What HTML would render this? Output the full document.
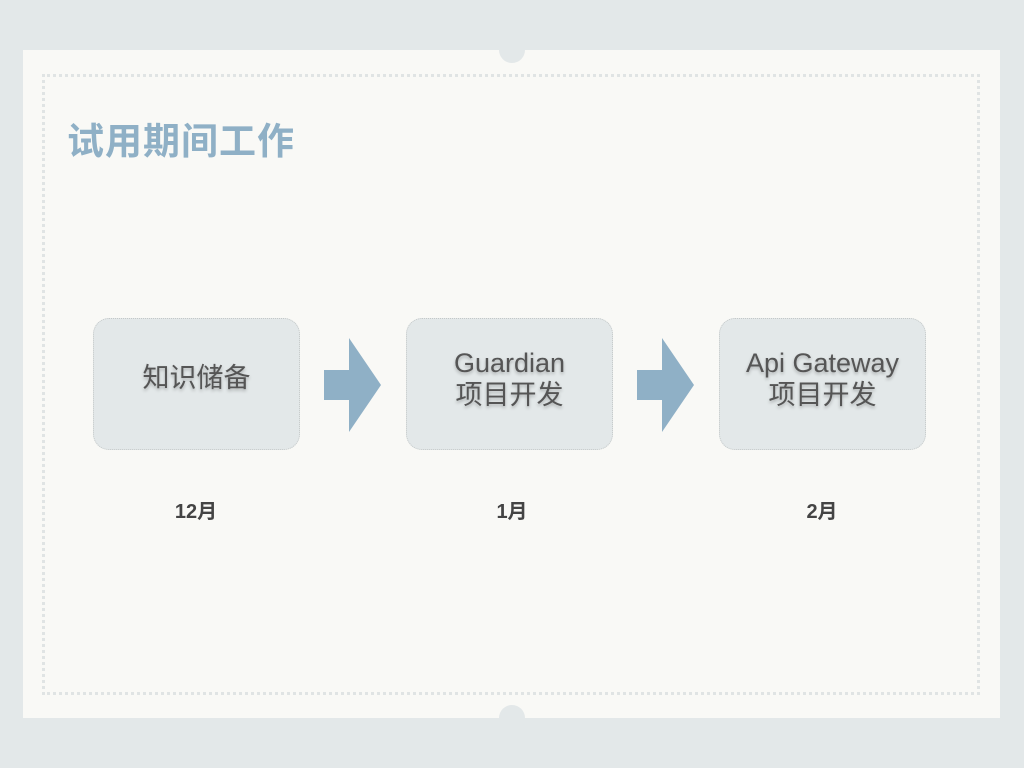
<!DOCTYPE html>
<html><head><meta charset="utf-8"><style>
body{margin:0;width:1024px;height:768px;background:#e3e8e9;position:relative;overflow:hidden;font-family:"Liberation Sans","Noto Sans CJK SC",sans-serif}
.card{position:absolute;left:23px;top:50px;width:977px;height:668px;background:#f9f9f6}
.dot{position:absolute;left:42px;top:74px;width:932px;height:615px;border:3px dotted #e0e4e4}
.notch{position:absolute;width:26px;height:26px;border-radius:50%;background:#e3e8e9;left:499px}
.title{position:absolute;left:67px;top:111px;font-size:37px;font-weight:bold;color:#8fb0c6;letter-spacing:1px}
.box{position:absolute;top:318px;width:207px;height:132px;background:#e3e8e9;border:1px dotted #c4c8c8;border-radius:16px;box-sizing:border-box;color:#555;font-size:27px;text-align:center;text-shadow:0 2px 3px rgba(0,0,0,.25);line-height:32px}
.m{position:absolute;top:495px;width:100px;text-align:center;font-size:20px;font-weight:bold;color:#444}
svg{position:absolute}
</style></head><body>
<div class="card"></div>
<div class="notch" style="top:37px"></div>
<div class="notch" style="top:705px"></div>
<div class="dot"></div>
<div class="title">试用期间工作</div>
<div class="box" style="left:93px;padding-top:43px">知识储备</div>
<div class="box" style="left:406px;padding-top:28px">Guardian<br>项目开发</div>
<div class="box" style="left:719px;padding-top:28px">Api Gateway<br>项目开发</div>
<svg style="left:324px;top:338px" width="58" height="95"><polygon points="0,32 25,32 25,0 57,47 25,94 25,62 0,62" fill="#8fb0c6"/></svg>
<svg style="left:637px;top:338px" width="58" height="95"><polygon points="0,32 25,32 25,0 57,47 25,94 25,62 0,62" fill="#8fb0c6"/></svg>
<div class="m" style="left:146px">12月</div>
<div class="m" style="left:462px">1月</div>
<div class="m" style="left:772px">2月</div>
</body></html>
